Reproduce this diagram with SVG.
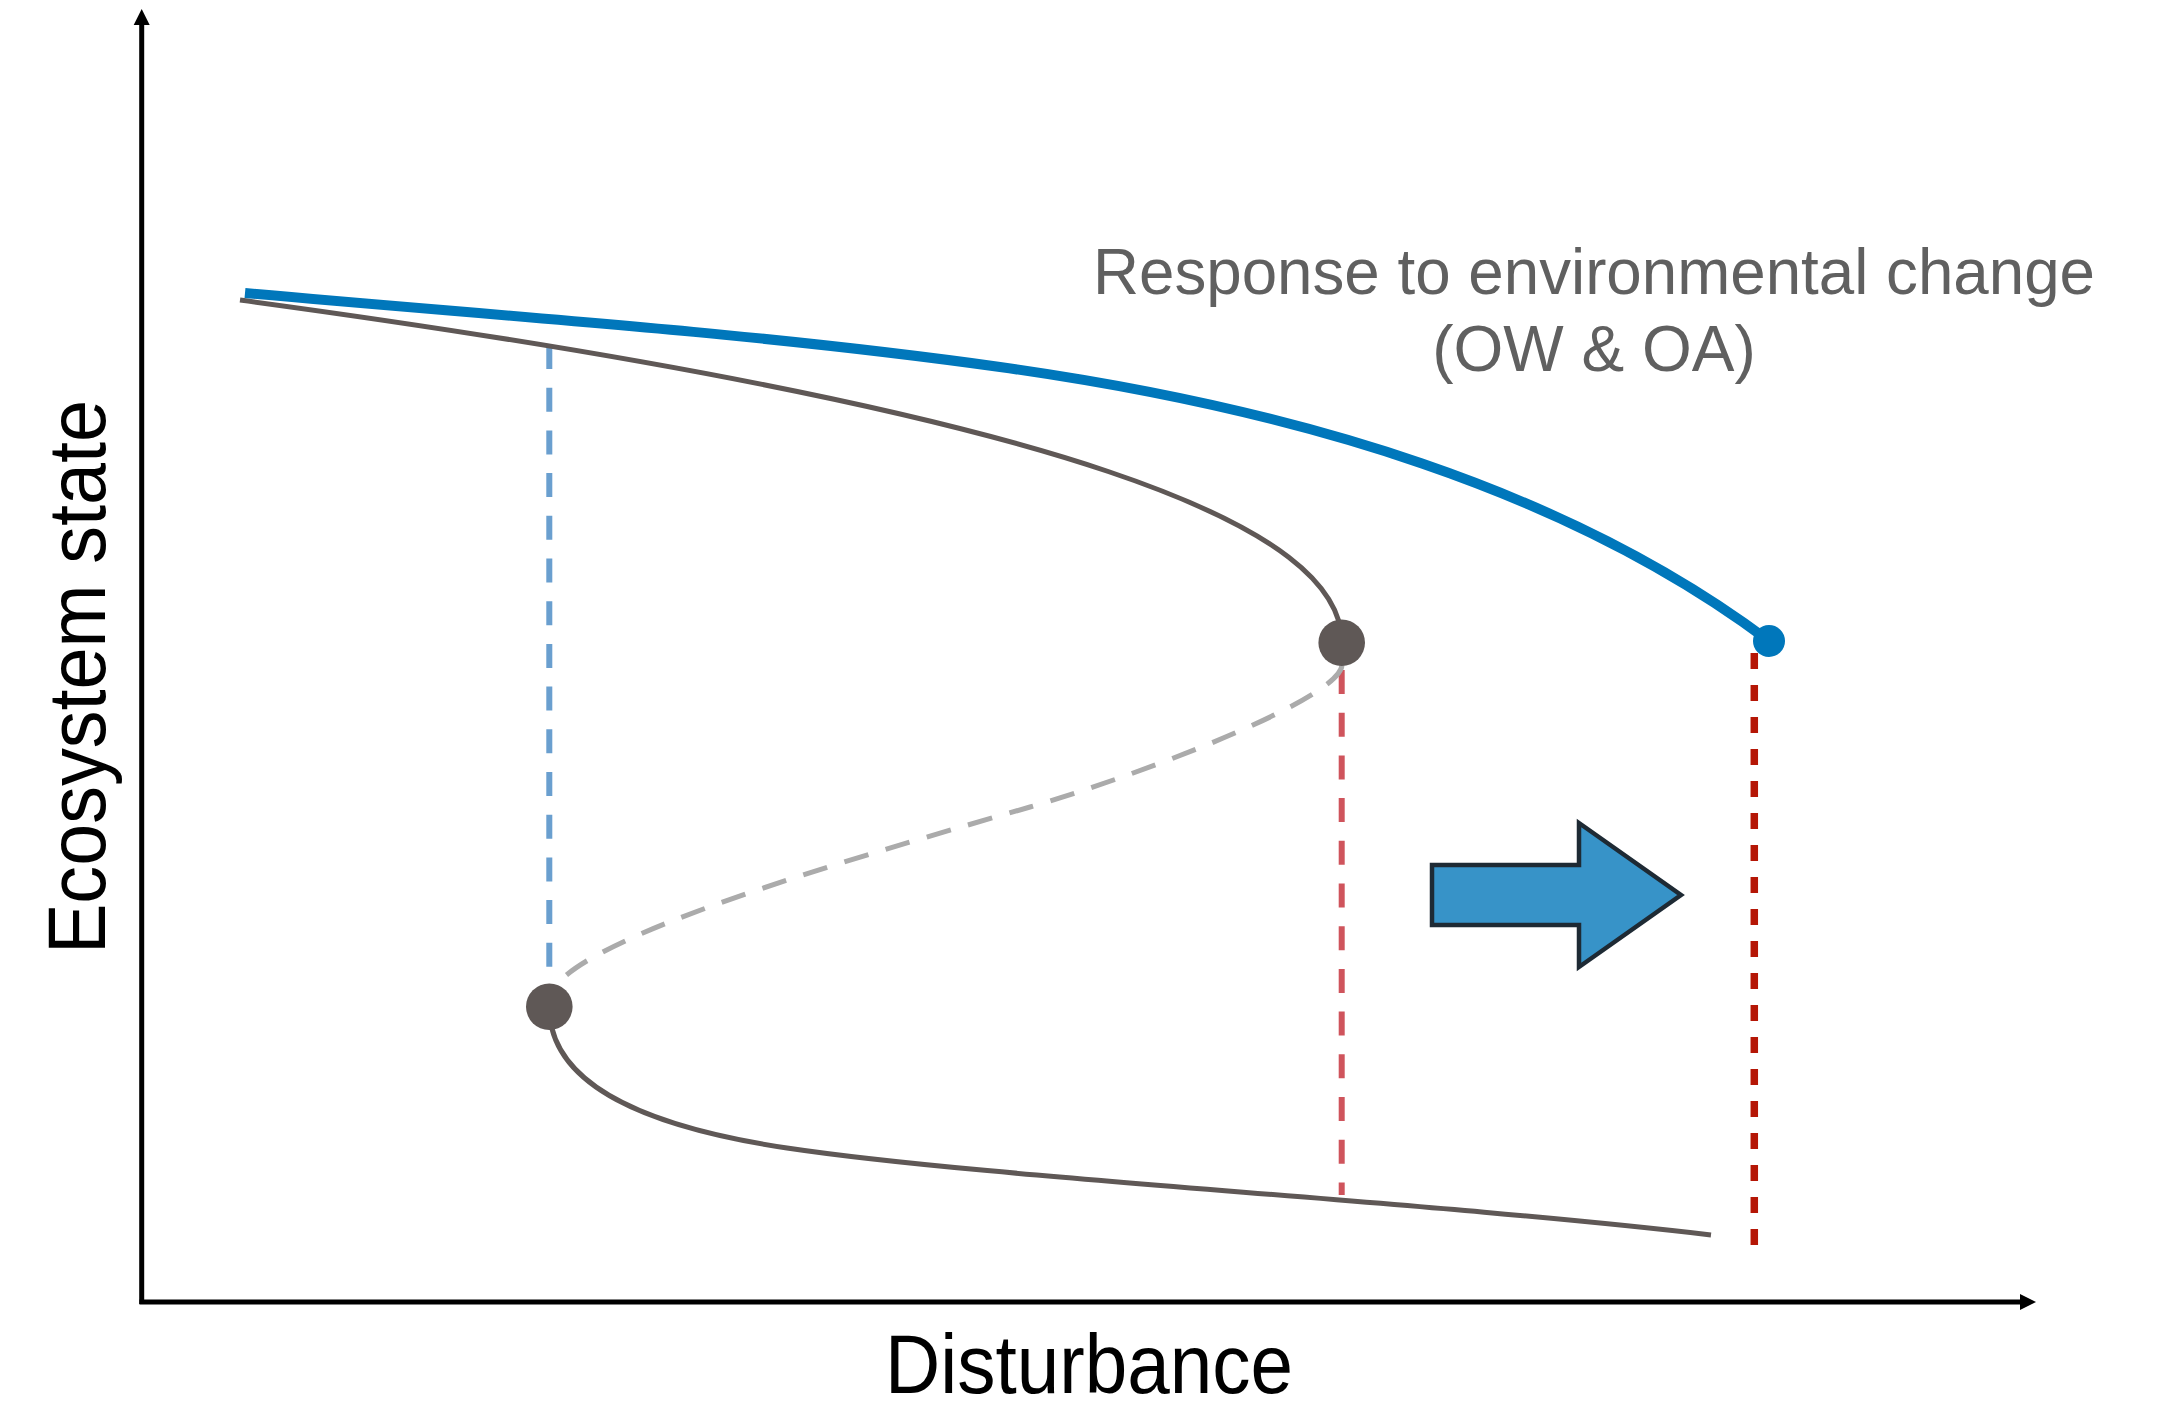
<svg xmlns="http://www.w3.org/2000/svg" width="2157" height="1407" viewBox="0 0 2157 1407">
<style>
.lbl{font-family:"Liberation Sans",Arial,sans-serif;}
.axis{stroke:#000;stroke-width:5;fill:none;}
.gray{stroke:#5f5856;stroke-width:5;fill:none;}
.dot{fill:#5f5856;}
</style>
<rect width="2157" height="1407" fill="#fff"/>
<g id="guides">
<line x1="549.3" y1="345" x2="549.3" y2="984" stroke="#6a9fcf" stroke-width="6" stroke-dasharray="24 18.7"/>
<line x1="1341.7" y1="670" x2="1341.7" y2="1195" stroke="#cf545c" stroke-width="6" stroke-dasharray="24 18.7"/>
<line x1="1754.3" y1="653" x2="1754.3" y2="1245" stroke="#b51606" stroke-width="7.5" stroke-dasharray="16 16"/>
</g>
<g id="axes">
<line class="axis" x1="141.7" y1="1304" x2="141.7" y2="24"/>
<polygon points="133.7,25 149.7,25 141.7,9" fill="#000"/>
<line class="axis" x1="139.5" y1="1302" x2="2021" y2="1302"/>
<polygon points="2020,1294 2020,1310 2036,1302" fill="#000"/>
</g>
<g id="curves">
<path class="gray" d="M240,300 C1085.9,414.3 1342,528.7 1342,643"/>
<path d="M1342,665 C1340,700 1130,778 1030,807 C880,850.5 623,923 563,978" fill="none" stroke="#ababab" stroke-width="5" stroke-dasharray="25 18"/>
<path class="gray" d="M549.3,1007 C549.3,1087 650,1127.5 787,1148 C987,1178 1411,1200 1711,1235"/>
<path d="M245,293 C497,316 748,331.7 1000,367 C1300,409 1569,491 1769,641" fill="none" stroke="#0077bb" stroke-width="10"/>
</g>
<g id="upper-tipping-point"><circle class="dot" cx="1341.7" cy="642.7" r="23.3"/></g>
<g id="lower-tipping-point"><circle class="dot" cx="549.3" cy="1006.7" r="23.3"/></g>
<g id="shifted-tipping-point"><circle cx="1769" cy="641" r="16" fill="#0077bb"/></g>
<g id="shift-arrow">
<polygon points="1432,865 1579,865 1579,823 1681,895 1579,967 1579,925 1432,925" fill="#3793c8" stroke="#1e2a34" stroke-width="4.5" stroke-linejoin="miter"/>
</g>
<g id="labels">
<text class="lbl" x="1594" y="294" font-size="64" fill="#606060" text-anchor="middle" textLength="1002" lengthAdjust="spacingAndGlyphs">Response to environmental change</text>
<text class="lbl" x="1594" y="371" font-size="64" fill="#606060" text-anchor="middle">(OW &amp; OA)</text>
<text class="lbl" x="1089" y="1393" font-size="84" fill="#000" text-anchor="middle" textLength="408" lengthAdjust="spacingAndGlyphs">Disturbance</text>
<text class="lbl" transform="translate(105,677) rotate(-90)" x="0" y="0" font-size="81" fill="#000" text-anchor="middle" textLength="554" lengthAdjust="spacingAndGlyphs">Ecosystem state</text>
</g>
</svg>
